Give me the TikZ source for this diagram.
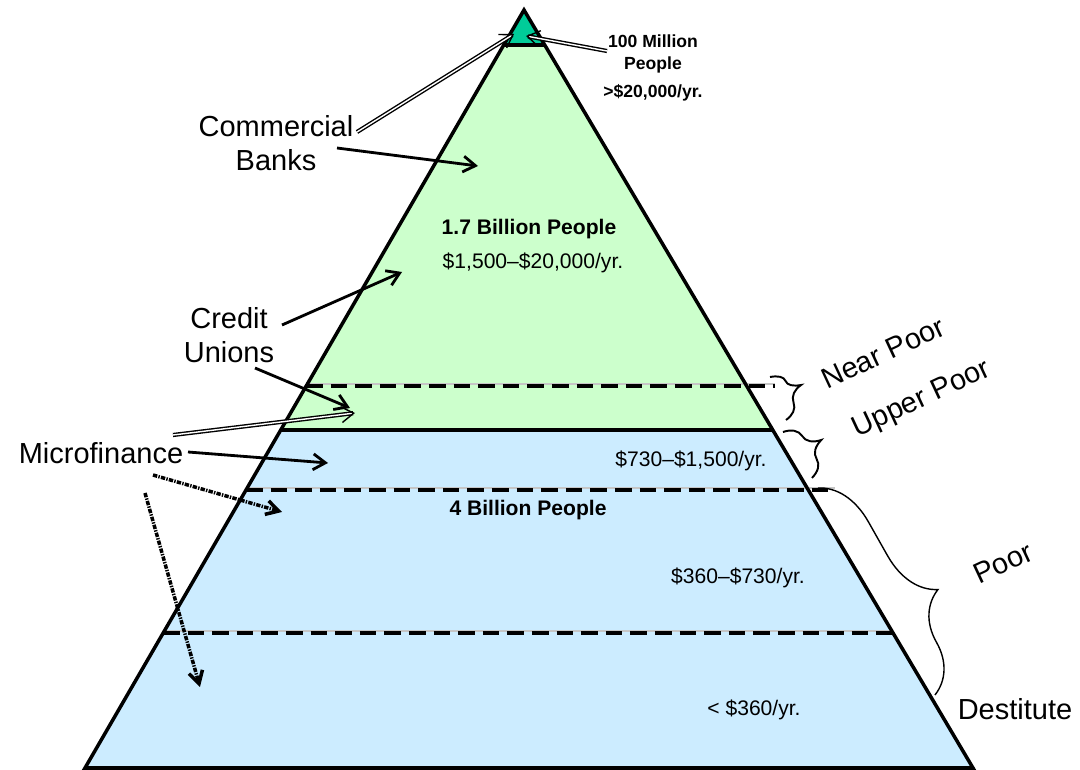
\documentclass[tikz,border=0pt]{standalone}
\usepackage{fontspec}
\setmainfont{Liberation Sans}
\usetikzlibrary{arrows.meta,calc,decorations.pathreplacing}
\definecolor{topteal}{RGB}{0,204,153}
\definecolor{midgreen}{RGB}{204,255,204}
\definecolor{lowblue}{RGB}{204,236,255}
\tikzset{
  band/.style={line width=2.3pt, dash pattern=on 9.5pt off 4.5pt},
  pointer/.style={line width=1.6pt, -{Straight Barb[length=7pt,width=9pt]}},
  hollow/.style={double, line width=0.8pt, double distance=0.8pt, -{Straight Barb[length=7pt,width=9pt]}},
  dotty/.style={line width=2pt, dash pattern=on 2.5pt off 0.7pt on 0.8pt off 0.7pt, -{Straight Barb[length=7pt,width=8pt]}},
  bigtext/.style={font=\fontsize{16.5}{19.5}\selectfont, align=center},
  smalltext/.style={font=\fontsize{12}{14}\selectfont},
  tinytext/.style={font=\bfseries\fontsize{10}{12.5}\selectfont, align=center},
  bracket/.style={decorate, line width=1.1pt, decoration={brace,#1}},
}
\begin{document}
\begin{tikzpicture}[x=0.02cm, y=-0.02cm]
    \useasboundingbox (0,0) rectangle (1080,770);
    \coordinate (apex) at (524,10);
    \coordinate (bl) at (85,768);
    \coordinate (br) at (973,768);
    % the three bands
    \fill[lowblue] ($(apex)!0.5541!(bl)$) -- (bl) -- (br) -- ($(apex)!0.5541!(br)$) -- cycle;
    \fill[midgreen] ($(apex)!0.0462!(bl)$) -- ($(apex)!0.5541!(bl)$) -- ($(apex)!0.5541!(br)$) -- ($(apex)!0.0462!(br)$) -- cycle;
    \fill[topteal] (apex) -- ($(apex)!0.0462!(bl)$) -- ($(apex)!0.0462!(br)$) -- cycle;
    \foreach \yy/\xl/\xr in {386/306/775, 490/246/835, 633/163/893} {
        \draw[gray!45, line width=0.7pt] (\xl,\yy-2) -- (\xr,\yy-2);
        \draw[band] (\xl,\yy) -- (\xr,\yy);
    }
    \draw[line width=2pt] ($(apex)!0.5541!(bl)$) -- ($(apex)!0.5541!(br)$);
    \draw[line width=2pt] ($(apex)!0.0462!(bl)$) -- ($(apex)!0.0462!(br)$);
    \draw[line width=2pt, line join=miter] (apex) -- (bl) -- (br) -- cycle;

    % texts inside
    \node[tinytext] (top) at (653,54) {100 Million\\People};
    \node[tinytext] (toppay) at (653,93) {>\$20,000/yr.};
    \node[smalltext, font=\bfseries\fontsize{12}{14}\selectfont] (midpeople) at (529,229) {1.7 Billion People};
    \node[smalltext] (midpay) at (533,263) {\$1,500\textendash\$20,000/yr.};
    \node[smalltext] (upperpay) at (691,461) {\$730\textendash\$1,500/yr.};
    \node[smalltext, font=\bfseries\fontsize{12}{14}\selectfont] (lowpeople) at (528,510) {4 Billion People};
    \node[smalltext] (poorpay) at (738,578) {\$360\textendash\$730/yr.};
    \node[smalltext] (destpay) at (754,710) {< \$360/yr.};

    % labels on the left
    \node[bigtext] (banks) at (276,143) {Commercial\\Banks};
    \node[bigtext] (unions) at (229,335) {Credit\\Unions};
    \node[bigtext] (micro) at (101,453) {Microfinance};

    % labels on the right
    \node[bigtext, rotate=25, inner sep=0pt] (nearpoor) at (883,353) {Near Poor};
    \node[bigtext, rotate=25, inner sep=0pt] (upperpoor) at (922,400) {Upper Poor};
    \node[bigtext, rotate=25, inner sep=0pt] (poor) at (1003,563) {Poor};
    \node[bigtext] (destitute) at (1015,709) {Destitute};

    \draw[bracket={amplitude=15pt,aspect=0.4}] (770,377) -- (786,420);
    \draw[bracket={amplitude=16pt,aspect=0.5}] (783,432) -- (812,478);
    \draw[bracket={amplitude=31pt,aspect=0.62}, line width=0.8pt] (818,488) -- (935,695);

    % arrow ends
    \coordinate (b1) at (357,132);
    \coordinate (b1e) at (514,34);
    \coordinate (t1) at (607,51);
    \coordinate (t1e) at (526,36);
    \coordinate (b2) at (337,148);
    \coordinate (b2e) at (478,166);
    \coordinate (u1) at (282,325);
    \coordinate (u1e) at (402,272);
    \coordinate (u2) at (255,368);
    \coordinate (u2e) at (350,408);
    \coordinate (m1) at (173,435);
    \coordinate (m1e) at (355,413);
    \coordinate (m2) at (188,452);
    \coordinate (m2e) at (328,463);
    \coordinate (m3) at (153,475);
    \coordinate (m3e) at (282,512);
    \coordinate (m4) at (145,493);
    \coordinate (m4e) at (200,687);

    \draw[hollow] (b1) -- (b1e);
    \draw[hollow] (t1) -- (t1e);
    \draw[pointer] (b2) -- (b2e);
    \draw[pointer] (u1) -- (u1e);
    \draw[pointer] (u2) -- (u2e);
    \draw[hollow] (m1) -- (m1e);
    \draw[pointer] (m2) -- (m2e);
    \draw[dotty] (m3) -- (m3e);
    \draw[dotty] (m4) -- (m4e);
\end{tikzpicture}
\end{document}
